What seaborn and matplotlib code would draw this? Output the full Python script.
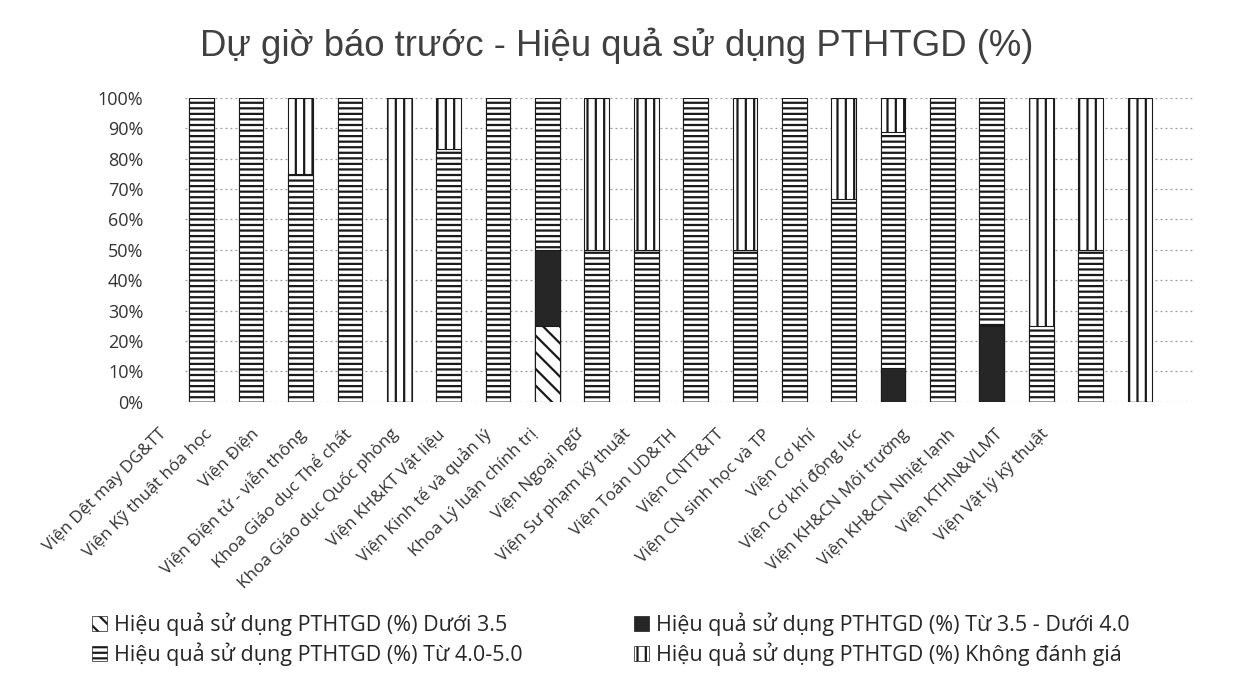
import numpy as np
import pandas as pd
import seaborn as sns
import matplotlib.pyplot as plt
import matplotlib.transforms as mtransforms
from matplotlib.patches import Patch

categories = [
    "Viện Dệt may DG&TT", "Viện Kỹ thuật hóa học", "Viện Điện",
    "Viện Điện tử - viễn thông", "Khoa Giáo dục Thể chất",
    "Khoa Giáo dục Quốc phòng", "Viện KH&KT Vật liệu",
    "Viện Kinh tế và quản lý", "Khoa Lý luận chính trị", "Viện Ngoại ngữ",
    "Viện Sư phạm kỹ thuật", "Viện Toán UD&TH", "Viện CNTT&TT",
    "Viện CN sinh học và TP", "Viện Cơ khí", "Viện Cơ khí động lực",
    "Viện KH&CN Môi trường", "Viện KH&CN Nhiệt lạnh", "Viện KTHN&VLMT",
    "Viện Vật lý kỹ thuật",
]

# percentage shares per category (bottom -> top)
duoi_35 = [0, 0, 0, 0, 0, 0, 0, 25, 0, 0, 0, 0, 0, 0, 0, 0, 0, 0, 0, 0]
tu_35_40 = [0, 0, 0, 0, 0, 0, 0, 25, 0, 0, 0, 0, 0, 0, 11.1, 0, 25, 0, 0, 0]
tu_40_50 = [100, 100, 75, 100, 0, 83.3, 100, 50, 50, 50, 100, 50, 100, 66.7,
            77.8, 100, 75, 25, 50, 0]
khong_dg = [0, 0, 25, 0, 100, 16.7, 0, 0, 50, 50, 0, 50, 0, 33.3, 11.1, 0, 0,
            75, 50, 100]

series_names = [
    "Hiệu quả sử dụng PTHTGD (%) Dưới 3.5",
    "Hiệu quả sử dụng PTHTGD (%) Từ 3.5 - Dưới 4.0",
    "Hiệu quả sử dụng PTHTGD (%) Từ 4.0-5.0",
    "Hiệu quả sử dụng PTHTGD (%) Không đánh giá",
]

df = pd.DataFrame({
    "category": categories,
    series_names[0]: duoi_35,
    series_names[1]: tu_35_40,
    series_names[2]: tu_40_50,
    series_names[3]: khong_dg,
})
shares = df[series_names].to_numpy() / 100.0
cum = np.cumsum(shares, axis=1)

sns.set_style("white")
plt.rcParams["font.family"] = ["Open Sans", "DejaVu Sans"]
plt.rcParams["hatch.linewidth"] = 1.6

fig = plt.figure(figsize=(12.33, 6.75), dpi=100)
ax = fig.add_axes([0.15, 0.405, 0.819, 0.45])

styles = [
    dict(color="white", hatch="\\\\"),
    dict(color="#262626", hatch=""),
    dict(color="white", hatch="---"),
    dict(color="white", hatch="||"),
]

# draw cumulative totals from the top segment down so each overlays the one before
for i in range(3, -1, -1):
    sns.barplot(x=df["category"], y=cum[:, i], ax=ax, width=0.5,
                saturation=1, edgecolor="#1a1a1a", linewidth=0.8,
                **styles[i])

ax.set_ylim(0, 1)
ax.set_xlim(-0.34, 20.11)
ax.set_yticks(np.arange(0, 1.01, 0.1))
ax.set_yticklabels([f"{int(round(v * 100))}%" for v in np.arange(0, 1.01, 0.1)],
                   fontsize=13, color="#333333")
ax.tick_params(axis="y", length=0, pad=30)
ax.set_xticks(range(len(categories)))
ax.set_xticklabels([])
ax.tick_params(axis="x", length=0)
ax.set_xlabel("")
ax.set_ylabel("")
ax.yaxis.grid(True, linestyle=(0, (1.5, 2.5)), color="#9a9a9a", linewidth=0.9)
ax.set_axisbelow(True)
for s in ax.spines.values():
    s.set_visible(False)

# category labels, drawn slightly left of each bar like the perspective view
for i, name in enumerate(categories):
    off = mtransforms.ScaledTranslation((-38 - 2.95 * i) / 100, -30 / 100,
                                        fig.dpi_scale_trans)
    ax.text(i, 0, name, transform=ax.transData + off, rotation=45,
            ha="right", va="center", rotation_mode="anchor",
            fontsize=12.3, color="#333333")

fig.text(0.5, 0.932, "Dự giờ báo trước - Hiệu quả sử dụng PTHTGD (%)",
         ha="center", va="center", fontsize=26.3, color="#404040",
         family=["Liberation Sans", "DejaVu Sans"])

handles = [
    Patch(facecolor=st["color"], hatch=st["hatch"], edgecolor="#1a1a1a",
          linewidth=0.5, label=name)
    for st, name in zip(styles, series_names)
]
order = [0, 2, 1, 3]
fig.legend([handles[k] for k in order], [series_names[k] for k in order],
           ncol=2, loc="lower left", bbox_to_anchor=(0.059, -0.015),
           frameon=False, fontsize=15.5, handlelength=0.7, handleheight=0.7,
           handletextpad=0.3, columnspacing=5.2, labelspacing=0.28)

fig.savefig("out.png", dpi=100, facecolor="white")
